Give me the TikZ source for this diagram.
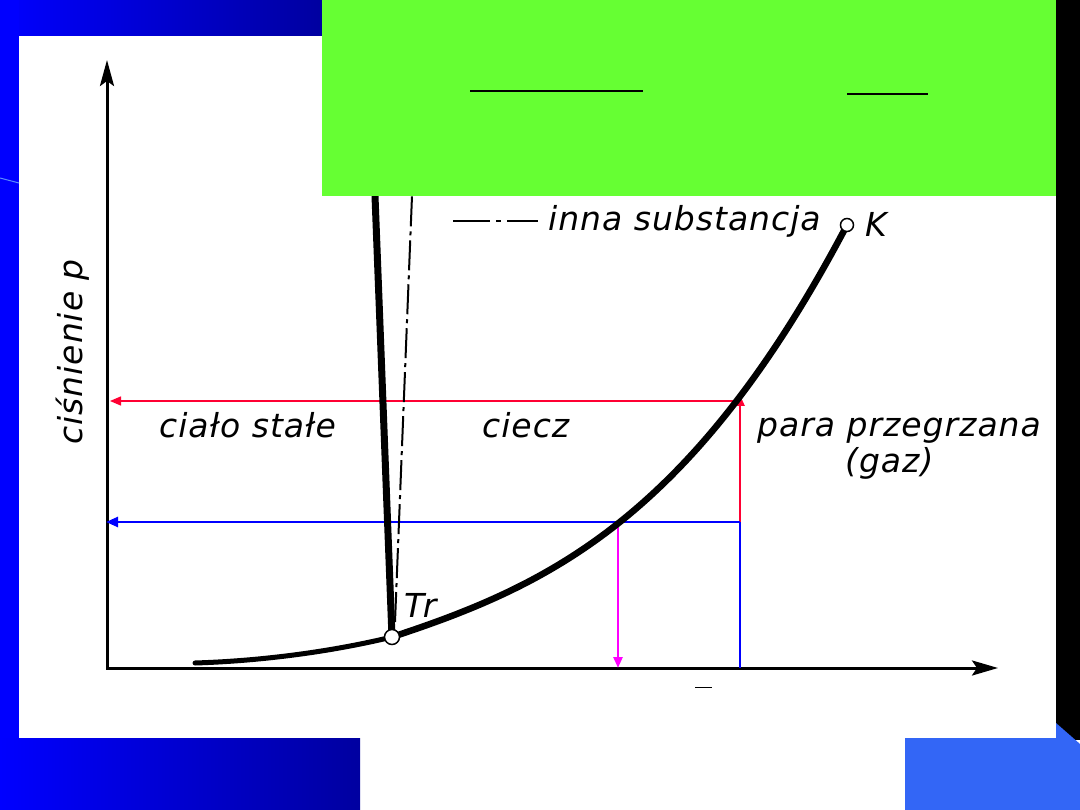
\documentclass[tikz,border=0pt]{standalone}
\usepackage{fontspec}
\setmainfont{DejaVu Sans}[LetterSpace=3]
\usetikzlibrary{arrows.meta}
\definecolor{slgreen}{RGB}{102,255,51}
\definecolor{blueA}{RGB}{0,0,255}
\definecolor{blueB}{RGB}{0,0,160}
\definecolor{blueC}{RGB}{51,102,246}
\definecolor{blueD}{RGB}{90,140,255}
\definecolor{redl}{RGB}{255,0,51}
\definecolor{bluel}{RGB}{0,0,255}
\definecolor{magl}{RGB}{255,0,255}
\begin{document}
\begin{tikzpicture}[x=1pt,y=-1pt,
  lbl/.style={font=\fontsize{33}{36}\selectfont\itshape, inner sep=0pt, anchor=base west},
  axisline/.style={line width=3pt, line join=miter},
  curveline/.style={line width=6.5pt, line cap=round},
  dashdotline/.style={line width=2pt, dash pattern=on 30pt off 5pt on 4pt off 5pt},
  pointmark/.style={circle, draw, fill=white, line width=1.5pt, inner sep=0pt},
  redarrow/.style={redl, -{Triangle[length=11pt,width=9pt]}},
  bluearrow/.style={bluel, line width=2.5pt, -{Triangle[length=12pt,width=10pt]}},
  magarrow/.style={magl, line width=2.5pt, -{Triangle[length=11pt,width=9pt]}}]
\useasboundingbox (0,0) rectangle (1080,810);
% background frame
\fill[white] (0,0) rectangle (1080,810);
\shade[left color=blueA, right color=blueB] (0,0) rectangle (322,36);
\fill[blueA] (0,0) rectangle (19,810);
\shade[left color=blueA, right color=blueB] (0,738) rectangle (360,810);
\fill[black] (1056,0) rectangle (1080,740);
\fill[blueC] (905,738) -- (1056,738) -- (1056,723) -- (1080,744) -- (1080,810) -- (905,810) -- cycle;
\draw[blueD, line width=1pt] (0,178) -- (19,183);

% key points
\coordinate (O) at (107,668);
\coordinate (ytip) at (107,60);
\coordinate (xtip) at (998,668);
\coordinate (tr) at (392,637);
\coordinate (k) at (847,225);
\coordinate (sub0) at (195,663);
\coordinate (melttop) at (375,196);
\coordinate (dd0) at (395,622);
\coordinate (dd1) at (412,196);
\coordinate (R1) at (740,401);
\coordinate (R1t) at (740,395);
\coordinate (R0) at (110,401);
\coordinate (C) at (740,522);
\coordinate (B0) at (106,522);
\coordinate (Cb) at (740,668);
\coordinate (M0) at (618,522);
\coordinate (M1) at (618,668);

% axes
\draw[axisline, {Stealth[length=26pt,width=14pt,inset=5pt]}-{Stealth[length=26pt,width=15pt,inset=5pt]}] (ytip) -- (O) -- (xtip);

% colored construction lines
\draw[redarrow, line width=1.5pt] (R1) -- (R0);
\draw[redarrow, line width=2.5pt] (C) -- (R1t);
\draw[bluearrow] (C) -- (B0);
\draw[bluel, line width=2.5pt] (Cb) -- (C);
\draw[magarrow] (M0) -- (M1);

% phase curves
\draw[line width=5pt, line cap=round] (sub0) .. controls (260,661) and (330,652) .. (tr);
\draw[curveline] (tr) .. controls (547,586) and (692,519.5) .. (k);
\draw[line width=7pt] (tr) -- (melttop);
\draw[dashdotline] (dd0) -- (dd1);

% points
\node[pointmark, minimum size=15pt] (Tr) at (tr) {};
\node[pointmark, minimum size=13pt] (K) at (k) {};

% green box
\fill[slgreen] (322,0) rectangle (1056,196);
\coordinate (g1a) at (470,91);
\coordinate (g1b) at (643,91);
\coordinate (g2a) at (847,94);
\coordinate (g2b) at (928,94);
\draw[line width=1.3pt] (g1a) -- (g1b);
\draw[line width=1.3pt] (g2a) -- (g2b);

% legend
\coordinate (legA) at (453,221);
\coordinate (legB) at (538,221);
\draw[line width=2pt, dash pattern=on 37pt off 6pt on 5pt off 6pt on 40pt] (legA) -- (legB);
\node[lbl] (leg) at (548,231) {inna substancja};

% labels
\node[lbl] (Klbl) at (865,237) {K};
\node[lbl] (Trlbl) at (404,617) {Tr};
\node[lbl] (solid) at (159,438) {ciało stałe};
\node[lbl] (liquid) at (482,438) {ciecz};
\node[lbl] (gas1) at (757,437) {para przegrzana};
\node[lbl] (gas2) at (845,473) {(gaz)};
\node[lbl, rotate=90] (ylbl) at (82,445) {ciśnienie p};

\coordinate (ta) at (695,687);
\coordinate (tb) at (712,687);
\draw[line width=1pt] (ta) -- (tb);
\end{tikzpicture}
\end{document}
